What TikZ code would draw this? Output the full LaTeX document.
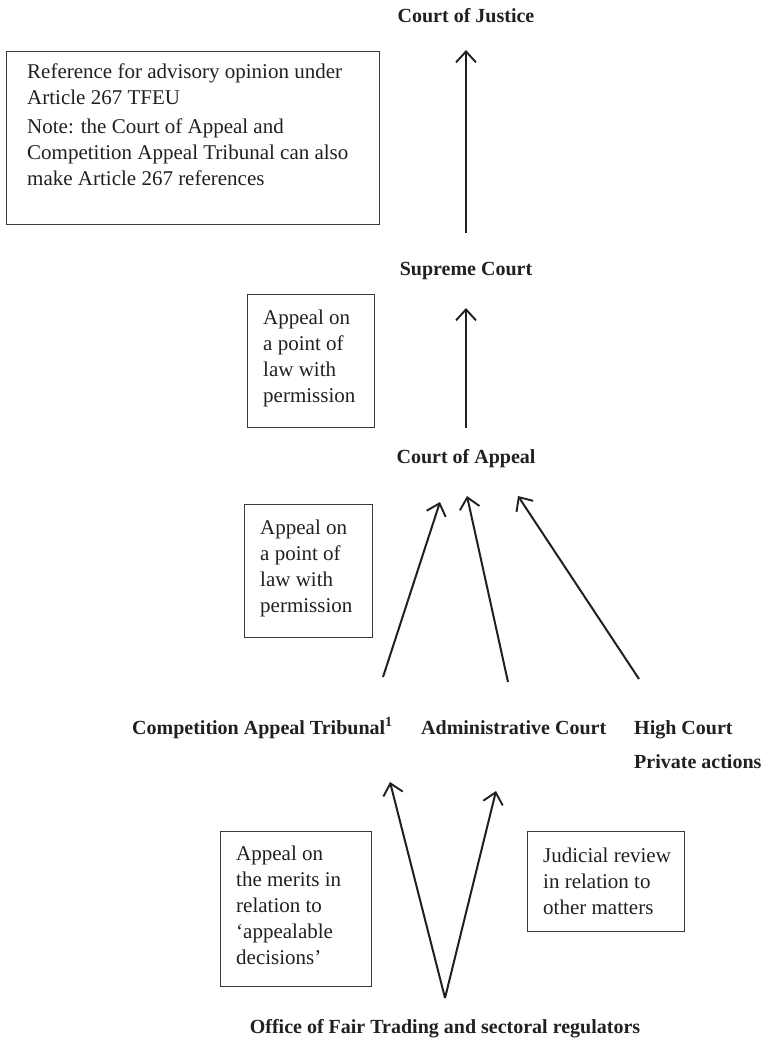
\documentclass[tikz,border=0pt]{standalone}
\usepackage{fontspec}
\setmainfont{Liberation Serif}
\usetikzlibrary{arrows.meta}
\definecolor{ink}{HTML}{231F20}
\definecolor{boxgray}{HTML}{3A3A3A}
\begin{document}
\begin{tikzpicture}[x=1pt,y=-1pt,
  lbl/.style={font=\fontsize{20}{24}\selectfont\bfseries, inner sep=0pt, text=ink},
  frame/.style={draw=boxgray, line width=1.3pt, inner sep=0pt, anchor=north west},
  boxtxt/.style={font=\fontsize{21}{26}\selectfont, inner sep=0pt, anchor=north west, align=left, text=ink},
  arr/.style={line width=2pt, draw=ink, -{Straight Barb[length=11pt,width=20pt,line width=1.9pt]}}
]
\useasboundingbox (0,0) rectangle (769,1043);

% labels
\node[lbl, anchor=base] (cj) at (466,23) {Court of Justice};
\node[lbl, anchor=base] (sc) at (466,275) {Supreme Court};
\node[lbl, anchor=base] (ca) at (466,463) {Court of Appeal};
\node[lbl, anchor=base west] (cat) at (132,734) {Competition Appeal Tribunal\textsuperscript{1}};
\node[lbl, anchor=base west] (ac) at (421,734) {Administrative Court};
\node[lbl, anchor=base west] (hc) at (634,734) {High Court};
\node[lbl, anchor=base west] (pa) at (634,768) {Private actions};
\node[lbl, anchor=base] (oft) at (445,1033) {Office of Fair Trading and sectoral regulators};

% boxes
\node[frame, minimum width=373pt, minimum height=173pt] (b1) at (6,51) {};
\node[boxtxt] (t1) at (27,63.5) {Reference for advisory opinion under\\Article 267 TFEU\\[3pt]Note: the Court of Appeal and\\Competition Appeal Tribunal can also\\make Article 267 references};

\node[frame, minimum width=127pt, minimum height=133pt] (b2) at (247,294) {};
\node[boxtxt] (t2) at (263,310) {Appeal on\\a point of\\law with\\permission};

\node[frame, minimum width=128pt, minimum height=133pt] (b3) at (244,504) {};
\node[boxtxt] (t3) at (260,520) {Appeal on\\a point of\\law with\\permission};

\node[frame, minimum width=151pt, minimum height=155pt] (b4) at (220,831) {};
\node[boxtxt] (t4) at (236,846) {Appeal on\\the merits in\\relation to\\`appealable\\decisions'};

\node[frame, minimum width=157pt, minimum height=100pt] (b5) at (527,831) {};
\node[boxtxt] (t5) at (543,848) {Judicial review\\in relation to\\other matters};

% arrow end points
\coordinate (cjin) at (466,50);
\coordinate (scout) at (466,233);
\coordinate (scin) at (466,308);
\coordinate (caout) at (466,428);
\coordinate (cain1) at (440,502);
\coordinate (cain2) at (467,496);
\coordinate (cain3) at (518,496);
\coordinate (catout) at (383,677);
\coordinate (acout) at (508,682);
\coordinate (hcout) at (639,679);
\coordinate (catin) at (390,782);
\coordinate (acin) at (496,791);
\coordinate (oftout) at (445,998);

% arrows
\draw[arr] (scout) -- (cjin);
\draw[arr] (caout) -- (scin);
\draw[arr] (catout) -- (cain1);
\draw[arr] (acout) -- (cain2);
\draw[arr] (hcout) -- (cain3);
\draw[arr] (oftout) -- (catin);
\draw[arr] (oftout) -- (acin);
\end{tikzpicture}
\end{document}
